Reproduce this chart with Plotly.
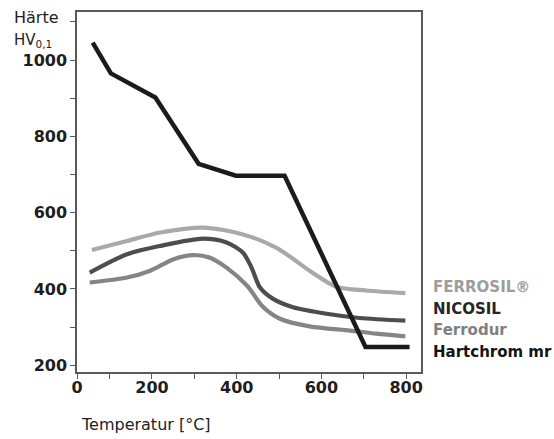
import plotly.graph_objects as go

# ---- data ----
hartchrom_t = [60, 103, 208, 310, 398, 513, 704, 808]
hartchrom_h = [1046, 965, 902, 728, 697, 697, 248, 248]

ferrosil_t = [58, 141, 220, 321, 415, 494, 572, 635, 706, 798]
ferrosil_h = [502, 526, 548, 561, 543, 508, 448, 406, 396, 389]

nicosil_t = [53, 141, 220, 321, 376, 415, 435, 455, 486, 533, 612, 690, 798]
nicosil_h = [443, 491, 513, 532, 522, 495, 456, 404, 374, 352, 335, 324, 317]

ferrodur_t = [53, 141, 196, 251, 298, 337, 376, 424, 463, 502, 572, 667, 729, 798]
ferrodur_h = [417, 430, 448, 478, 489, 482, 456, 409, 352, 322, 302, 291, 283, 276]

x_tick_vals = [23, 200, 400, 600, 800]
x_tick_text = ["0", "200", "400", "600", "800"]
x_minor_vals = [100, 300, 500, 700]
y_tick_vals = [200, 400, 600, 800, 1000]
y_tick_text = ["200", "400", "600", "800", "1000"]
y_minor_vals = [300, 500, 700, 900, 1100]

series_names = ["FERROSIL®", "NICOSIL", "Ferrodur", "Hartchrom mr"]
line_colors = ["#a9a9a9", "#4d4d4d", "#858585", "#1b1b1b"]
label_colors = ["#9d9d9d", "#262626", "#808080", "#141414"]

PL, PR, PT, PB = 77, 421, 10, 371.7  # plot area in page pixels
W, H = 554, 439


def px_x(px):
    return (px - PL) / (PR - PL)


def px_y(py):
    return (PB - py) / (PB - PT)


fig = go.Figure()
curves = [(ferrosil_t, ferrosil_h, "spline", 4.2), (nicosil_t, nicosil_h, "spline", 4.2),
          (ferrodur_t, ferrodur_h, "spline", 4.2), (hartchrom_t, hartchrom_h, "linear", 4.5)]
for (t, h, shape, lw), name, col in zip(curves, series_names, line_colors):
    fig.add_trace(go.Scatter(x=t, y=h, mode="lines", name=name, hoverinfo="skip",
                             line=dict(color=col, width=lw, shape=shape, smoothing=0.8)))

axis_col = "#5a5a5a"
tick_font = dict(family="DejaVu Sans", size=16, color="#1e1e1e", weight="bold")

fig.update_xaxes(range=[23, 835], tickmode="array", tickvals=x_tick_vals, ticktext=x_tick_text,
                 ticks="outside", ticklen=5, tickwidth=1.3, tickcolor=axis_col,
                 ticklabelstandoff=-5,
                 minor=dict(tickmode="array", tickvals=x_minor_vals, ticks="outside",
                            ticklen=5, tickwidth=1.3, tickcolor=axis_col),
                 showline=True, linecolor=axis_col, linewidth=1.5, mirror=True,
                 showgrid=False, zeroline=False, tickfont=tick_font)
fig.update_yaxes(range=[182.4, 1126], tickmode="array", tickvals=y_tick_vals, ticktext=y_tick_text,
                 ticks="outside", ticklen=5, tickwidth=1.3, tickcolor=axis_col,
                 minor=dict(tickmode="array", tickvals=y_minor_vals, ticks="outside",
                            ticklen=5, tickwidth=1.3, tickcolor=axis_col),
                 showline=True, linecolor=axis_col, linewidth=1.5, mirror=True,
                 showgrid=False, zeroline=False, tickfont=tick_font)

annots = []
label_y = [286, 308, 330, 352]
for name, col, yy in zip(series_names, label_colors, label_y):
    annots.append(dict(text=name, x=px_x(431), y=px_y(yy), xref="paper", yref="paper",
                       xanchor="left", yanchor="middle", showarrow=False,
                       font=dict(family="DejaVu Sans", size=15, color=col, weight="bold")))

annots.append(dict(text="Härte", xref="paper", yref="paper",
                   x=px_x(12), y=px_y(27), xanchor="left", yanchor="bottom",
                   showarrow=False, font=dict(family="DejaVu Sans", size=16, color="#222222")))
annots.append(dict(text="HV<sub>0,1</sub>", xref="paper", yref="paper",
                   x=px_x(12), y=px_y(27), xanchor="left", yanchor="top",
                   showarrow=False, font=dict(family="DejaVu Sans", size=15, color="#222222")))
annots.append(dict(text="Temperatur [°C]", xref="paper", yref="paper",
                   x=px_x(79), y=px_y(424), xanchor="left", yanchor="middle",
                   showarrow=False, font=dict(family="DejaVu Sans", size=16, color="#222222")))

fig.update_layout(
    width=W, height=H,
    margin=dict(l=PL, r=W - PR, t=PT, b=H - PB),
    paper_bgcolor="white", plot_bgcolor="white",
    showlegend=False,
    hovermode=False,
    annotations=annots,
)

fig.write_html("out.html", config={"displayModeBar": False},
               post_script="document.body.style.margin='0px';document.body.style.overflow='hidden';")
